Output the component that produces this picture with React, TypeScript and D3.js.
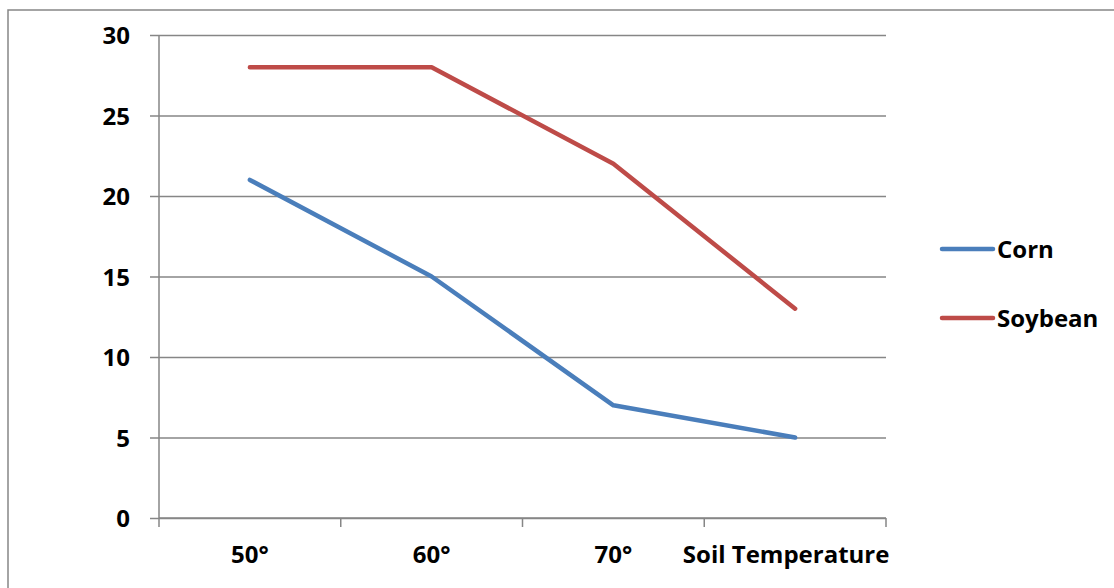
import React, { useEffect, useRef } from 'react';
import * as d3 from 'd3';

const categories = ['50°', '60°', '70°', 'Soil Temperature'];
const yTicks = [0, 5, 10, 15, 20, 25, 30];
const cornValues = [21, 15, 7, 5];
const soybeanValues = [28, 28, 22, 13];
const seriesNames = ['Corn', 'Soybean'];
const seriesColors = ['#4A7EBB', '#BE4B48'];

interface ISeries {
  name: string;
  color: string;
  values: number[];
}

const App: React.FC = () => {
  const containerRef = useRef<HTMLDivElement>(null);

  useEffect(() => {
    if (containerRef && containerRef.current) {
      drawChart(containerRef.current);
    }
  }, [containerRef]);

  return <div ref={containerRef} style={{ position: 'absolute', left: 0, top: 0 }}></div>;
};

const drawChart = (container: HTMLDivElement) => {
  d3.select(container).selectAll('*').remove();

  const width = 1114;
  const height = 588;
  const plot = { left: 159, right: 886, top: 35, bottom: 518 };
  const font = "'Open Sans', sans-serif";
  const gridColor = '#868686';

  const series: ISeries[] = [
    { name: seriesNames[0], color: seriesColors[0], values: cornValues },
    { name: seriesNames[1], color: seriesColors[1], values: soybeanValues },
  ];

  const svg = d3
    .select(container)
    .append('svg')
    .attr('width', width)
    .attr('height', height)
    .style('display', 'block');

  // outer chart border (runs off the right and bottom edges)
  svg
    .append('rect')
    .attr('x', 8)
    .attr('y', 10)
    .attr('width', width + 20)
    .attr('height', height + 20)
    .attr('fill', 'white')
    .attr('stroke', gridColor)
    .attr('stroke-width', 1.5);

  const xScale = d3.scaleBand().domain(categories).range([plot.left, plot.right]);
  const yScale = d3.scaleLinear().domain([0, 30]).range([plot.bottom, plot.top]);

  const yAxisG = svg.append('g').attr('transform', `translate(${plot.left},0)`);
  yAxisG.call(
    d3
      .axisLeft(yScale)
      .tickValues(yTicks)
      .tickSize(-(plot.right - plot.left))
      .tickPadding(0)
  );
  // tick marks sticking out on the left
  yAxisG
    .selectAll('.tick')
    .append('line')
    .attr('x1', -9)
    .attr('x2', 0)
    .attr('stroke', gridColor)
    .attr('stroke-width', 1.5);
  yAxisG.selectAll('.tick line').attr('stroke', gridColor).attr('stroke-width', 1.5);
  yAxisG.select('.domain').attr('stroke', gridColor).attr('stroke-width', 1.5).attr('d', `M0,${plot.top}V${plot.bottom}`);
  yAxisG
    .selectAll('.tick text')
    .attr('x', -29)
    .attr('dy', '0.36em')
    .style('font-family', font)
    .style('font-weight', 'bold')
    .style('font-size', '24px')
    .attr('fill', 'black');

  const xAxisG = svg.append('g').attr('transform', `translate(0,${plot.bottom})`);
  xAxisG.call(d3.axisBottom(xScale).tickSize(0).tickFormat(() => ''));
  xAxisG.select('.domain').attr('stroke', gridColor).attr('stroke-width', 1.5).attr('d', `M${plot.left},0H${plot.right}`);
  const boundaries = categories.map((c) => xScale(c) || 0).concat([plot.right]);
  xAxisG
    .selectAll('.boundary')
    .data(boundaries)
    .enter()
    .append('line')
    .attr('x1', (d) => d)
    .attr('x2', (d) => d)
    .attr('y1', 0)
    .attr('y2', 9)
    .attr('stroke', gridColor)
    .attr('stroke-width', 1.5);
  xAxisG
    .selectAll('.cat')
    .data(categories)
    .enter()
    .append('text')
    .attr('x', (d, i) => (xScale(d) || 0) + xScale.bandwidth() / 2 + (i === categories.length - 1 ? -9 : 0))
    .attr('y', 45)
    .attr('text-anchor', 'middle')
    .style('font-family', font)
    .style('font-weight', 'bold')
    .style('font-size', '24px')
    .attr('fill', 'black')
    .text((d) => d);

  const line = d3
    .line<number>()
    .x((_, i) => (xScale(categories[i]) || 0) + xScale.bandwidth() / 2)
    .y((d) => yScale(d));

  svg
    .selectAll('.series')
    .data(series)
    .enter()
    .append('path')
    .attr('d', (d) => line(d.values))
    .attr('fill', 'none')
    .attr('stroke', (d) => d.color)
    .attr('stroke-width', 4.5)
    .attr('stroke-linecap', 'round')
    .attr('stroke-linejoin', 'round');

  const legendY = d3.scalePoint().domain(seriesNames).range([249, 318]);
  const legend = svg
    .selectAll('.legend')
    .data(series)
    .enter()
    .append('g')
    .attr('transform', (d) => `translate(940,${legendY(d.name)})`);
  legend
    .append('line')
    .attr('x1', 2)
    .attr('x2', 53)
    .attr('stroke', (d) => d.color)
    .attr('stroke-width', 4.5)
    .attr('stroke-linecap', 'round');
  legend
    .append('text')
    .attr('x', 57)
    .attr('dy', '0.36em')
    .style('font-family', font)
    .style('font-weight', 'bold')
    .style('font-size', '24px')
    .attr('fill', 'black')
    .text((d) => d.name);
};

export default App;
